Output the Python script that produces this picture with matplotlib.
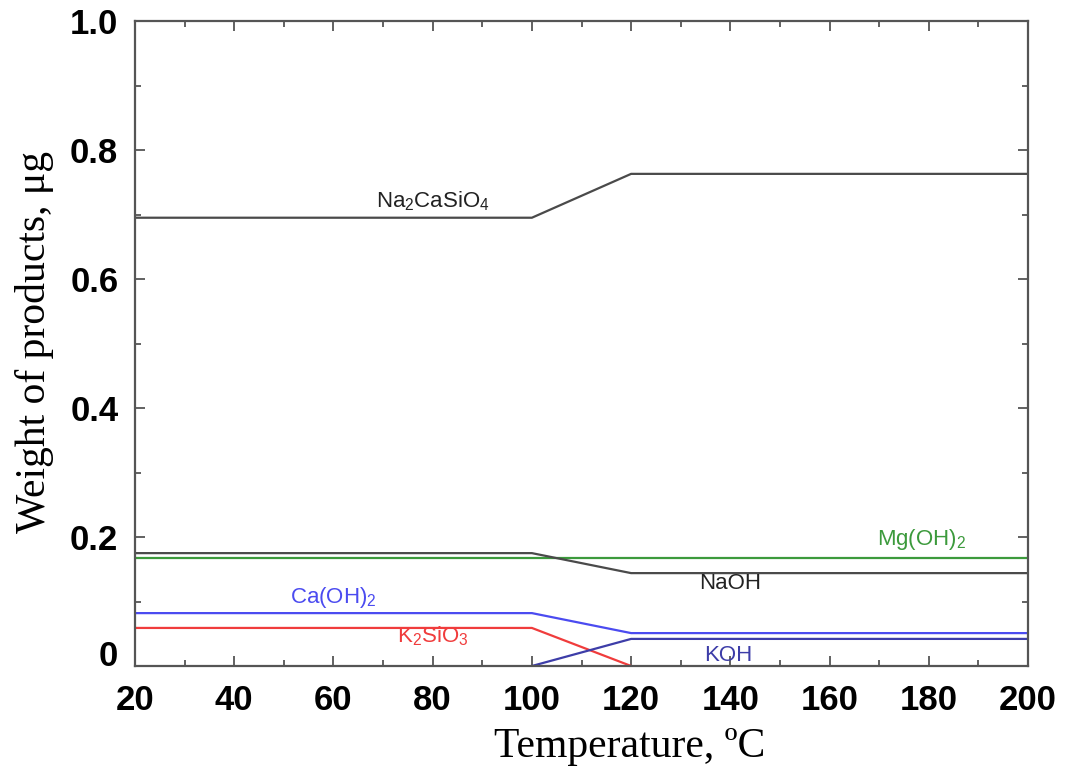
import matplotlib
matplotlib.use("Agg")
import matplotlib.pyplot as plt
from matplotlib.ticker import MultipleLocator, FixedLocator, FixedFormatter

plt.rcParams["mathtext.fontset"] = "custom"
plt.rcParams["mathtext.rm"] = "Liberation Sans"
plt.rcParams["mathtext.it"] = "Liberation Sans:italic"

# Temperature breakpoints (deg C)
temps = [20, 100, 120, 200]

# Weight of each product (ug) at the breakpoints
na2casio4 = [0.695, 0.695, 0.763, 0.763]
naoh = [0.175, 0.175, 0.144, 0.144]
mgoh2 = [0.168, 0.168, 0.168, 0.168]
caoh2 = [0.082, 0.082, 0.051, 0.051]
k2sio3_temps = [20, 100, 120]
k2sio3 = [0.059, 0.059, 0.0]
koh_temps = [100, 120, 200]
koh = [0.0, 0.042, 0.042]

y_ticks = [0, 0.2, 0.4, 0.6, 0.8, 1.0]
y_tick_labels = ["0", "0.2", "0.4", "0.6", "0.8", "1.0"]
x_ticks = [20, 40, 60, 80, 100, 120, 140, 160, 180, 200]

fig = plt.figure(figsize=(10.67, 7.69), dpi=100)
ax = fig.add_axes([135 / 1067, 1 - 666 / 769, (1028 - 135) / 1067, (666 - 21) / 769])

lw = 1.6
ax.plot(temps, na2casio4, color="#4a4a4a", lw=lw)
ax.plot(temps, mgoh2, color="#3c9a3c", lw=lw)
ax.plot(temps, naoh, color="#4a4a4a", lw=lw)
ax.plot(temps, caoh2, color="#4b4bf0", lw=lw)
ax.plot(k2sio3_temps, k2sio3, color="#f03c3c", lw=lw)
ax.plot(koh_temps, koh, color="#3d3da8", lw=lw)

lab = dict(fontsize=16, family="Liberation Sans", ha="center", va="center")
ax.text(80, 0.72, r"Na$_2$CaSiO$_4$", color="#222222", **lab)
ax.text(178.5, 0.196, r"Mg(OH)$_2$", color="#3c9a3c", **lab)
ax.text(140, 0.128, "NaOH", color="#222222", **lab)
ax.text(60, 0.106, r"Ca(OH)$_2$", color="#4b4bf0", **lab)
ax.text(80, 0.046, r"K$_2$SiO$_3$", color="#f03c3c", **lab)
ax.text(139.5, 0.017, "KOH", color="#3d3da8", **lab)

ax.set_xlim(20, 200)
ax.set_ylim(0, 1.0)
ax.xaxis.set_major_locator(FixedLocator(x_ticks))
ax.xaxis.set_minor_locator(MultipleLocator(10))
ax.yaxis.set_major_locator(FixedLocator(y_ticks))
ax.yaxis.set_major_formatter(FixedFormatter(y_tick_labels))
ax.yaxis.set_minor_locator(MultipleLocator(0.1))

ax.tick_params(which="both", direction="in", top=True, right=True,
               color="#555555", width=1.3)
ax.tick_params(which="major", length=7, labelsize=25)
ax.tick_params(axis="x", which="major", pad=13)
ax.tick_params(axis="y", which="major", pad=12)
ax.tick_params(which="minor", length=4)
for t in ax.get_xticklabels() + ax.get_yticklabels():
    t.set_fontweight("bold")
    t.set_family("Liberation Sans")
ax.yaxis.get_major_ticks()[0].label1.set_verticalalignment("baseline")
for s in ax.spines.values():
    s.set_color("#555555")
    s.set_linewidth(1.6)

fig.text(630 / 1067, 1 - 757 / 769, "Temperature, ºC", family="Liberation Serif",
         fontsize=30, ha="center", va="baseline")
fig.text(35 / 1067, 1 - 342 / 769, "Weight of products, μg", family="Liberation Serif",
         fontsize=30, ha="center", va="center", rotation=90)

fig.savefig("out.png", dpi=100)
